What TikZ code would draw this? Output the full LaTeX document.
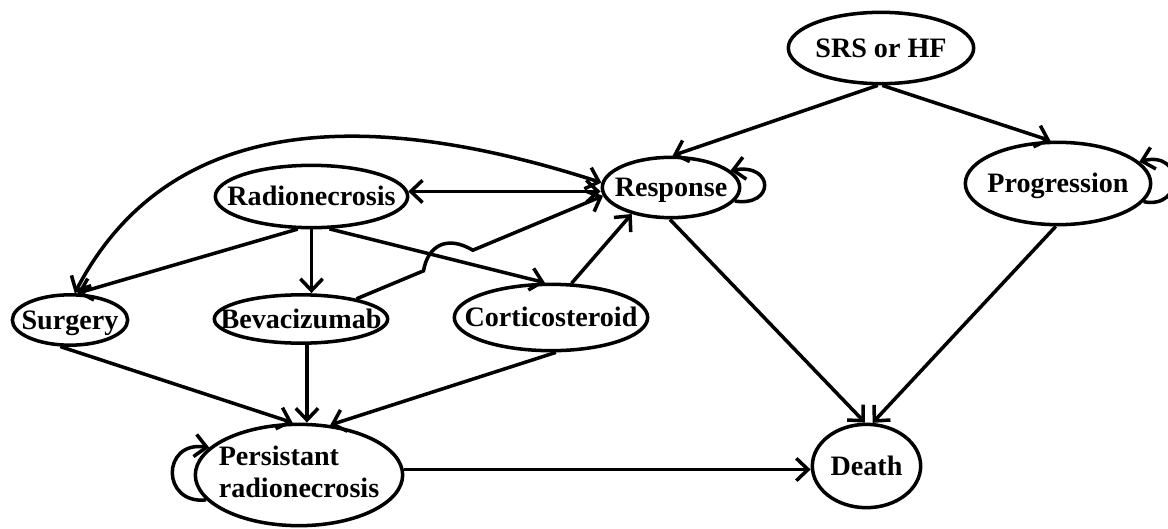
\documentclass[tikz,border=0pt]{standalone}
\usepackage{fontspec}
\setmainfont{Liberation Serif}
\usetikzlibrary{arrows.meta,calc,shapes.geometric}
\newcommand{\nlab}[1]{\makebox[0pt]{#1}}
\begin{document}
\begin{tikzpicture}[x=0.03cm,y=-0.03cm,
  st/.style={ellipse,draw,line width=3pt,inner sep=0pt,font=\fontsize{24}{28}\selectfont\bfseries},
  one/.style={text height=17pt,text depth=1pt},
  arr/.style={line width=3pt,-{Straight Barb[length=10pt,width=19pt]}},
  darr/.style={line width=3pt,{Straight Barb[length=10pt,width=19pt]}-{Straight Barb[length=10pt,width=19pt]}}]
\useasboundingbox (0,0) rectangle (1168,529);

\node[st,one,minimum width=5.56cm,minimum height=2.14cm] (srs) at (881,48) {\nlab{SRS or HF}};
\node[st,one,minimum width=4.12cm,minimum height=1.81cm] (resp) at (671,187.5) {\nlab{Response}};
\node[st,one,minimum width=5.56cm,minimum height=2.47cm] (prog) at (1058,183.5) {\nlab{Progression}};
\node[st,one,minimum width=5.77cm,minimum height=1.87cm] (rad) at (311.5,196.5) {\nlab{Radionecrosis}};
\node[st,one,minimum width=3.46cm,minimum height=1.51cm] (surg) at (70,320) {\nlab{Surgery}};
\node[st,one,minimum width=5.20cm,minimum height=1.45cm] (bev) at (301,319) {\nlab{Bevacizumab}};
\node[st,one,minimum width=5.80cm,minimum height=1.99cm] (cort) at (551,317.5) {\nlab{Corticosteroid}};
\node[st,minimum width=6.22cm,minimum height=3.04cm] (pers) at (299,475) {\nlab{\begin{tabular}{@{}l@{}}Persistant\\radionecrosis\end{tabular}}};
\node[st,one,minimum width=3.25cm,minimum height=2.50cm] (death) at (866.5,466) {\nlab{Death}};

% from SRS or HF
\draw[arr] (srs.-95) -- (resp.87);
\draw[arr] (srs.-88) -- (prog.100);
% self loops
\draw[arr] (resp.-12) .. controls +(40,6) and +(44,-7) .. (resp.16);
\draw[arr] (prog.-12) .. controls +(41,8) and +(45,-11.5) .. (prog.15);
\draw[arr] (pers.195) .. controls +(-45,5) and +(-48,-7) .. (pers.163);
% radionecrosis <-> response
\draw[darr] (rad.3) -- (rad.3 -| resp.west);
% response <-> surgery
\draw[darr] (resp.176) .. controls +(-269,-87) and +(84,-161) .. (surg.80);
% from radionecrosis
\draw[arr] (rad.-113) -- (surg.75);
\draw[arr] (rad.south) -- (rad.south |- bev.north);
\draw[arr] (rad.-61) -- (cort.100);
% bevacizumab -> response with jump
\draw[arr] (bev.20) -- ($(bev.20)!0.272!(resp.187)$)
  .. controls +(4,-24) and +(-27,-16) .. ($(bev.20)!0.472!(resp.187)$) -- (resp.187);
\draw[arr] (cort.59) -- (resp.214);
% to persistant radionecrosis
\draw[arr] (surg.250) -- (pers.97);
\draw[arr] (bev.-77) -- (bev.-77 |- pers.north);
\draw[arr] (cort.-82) -- (pers.58);
% to death
\draw[arr] (pers.3) -- (pers.3 -| death.west);
\draw[arr] (resp.-92) -- (death.92);
\draw[arr] (prog.-93) -- (death.82);
\end{tikzpicture}
\end{document}
